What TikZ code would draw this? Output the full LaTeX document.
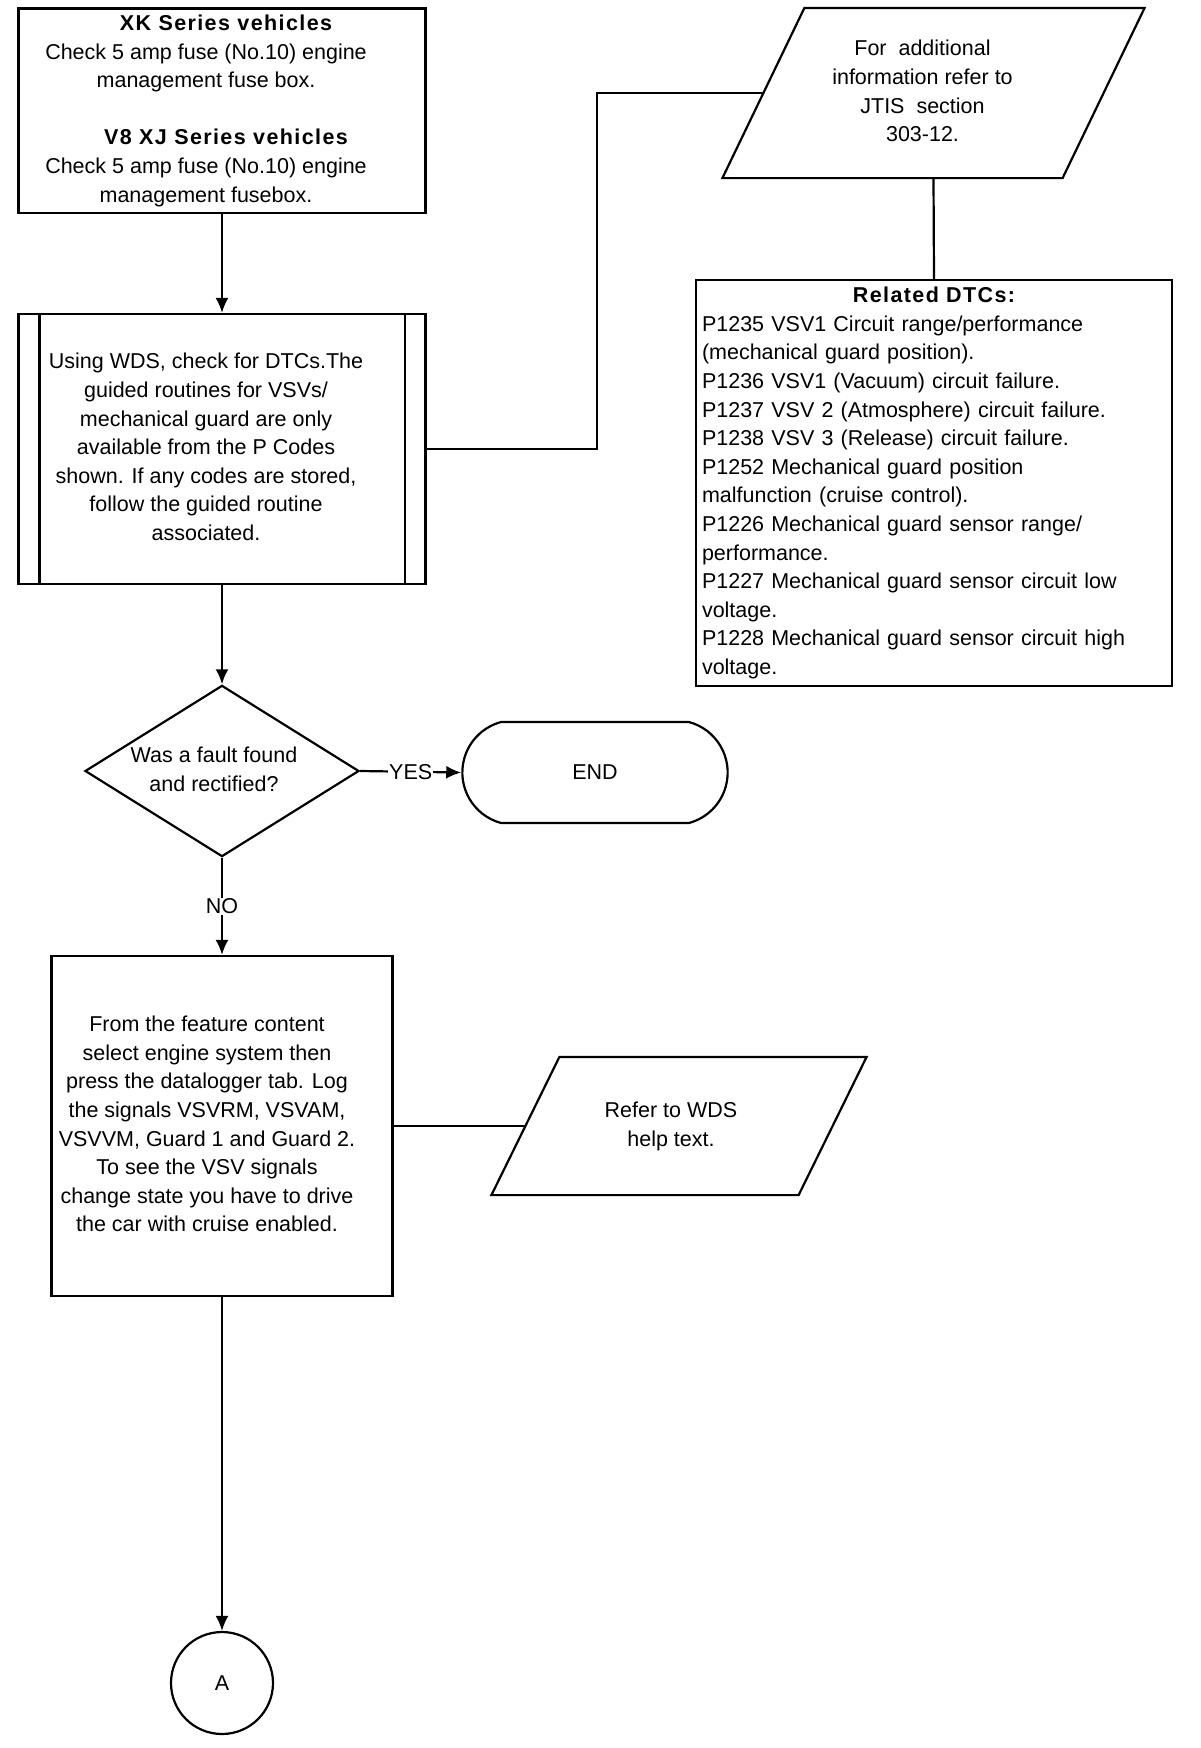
\documentclass[tikz,border=0pt]{standalone}
\usepackage{fontspec}
\setmainfont{Liberation Sans}
\newfontfamily\headfont[LetterSpace=6.5]{Liberation Sans}
\usepackage{tikz}
\usetikzlibrary{calc}
\usetikzlibrary{arrows.meta}
\usetikzlibrary{shapes.geometric}
\usetikzlibrary{shapes.misc}
\newcommand{\padlines}[2]{\begin{tabular}{@{}c@{\hspace{#1pt}}}#2\end{tabular}}
\newcommand{\heading}[1]{{\headfont\bfseries #1}}
\tikzset{
  txt/.style={font=\fontsize{21.5}{28.6}\selectfont},
  stepbox/.style={txt, draw, rectangle, inner sep=2pt},
  decision/.style={txt, draw, diamond, aspect=1.6, inner sep=0pt},
  terminal/.style={txt, draw, rounded rectangle, rounded rectangle arc length=150},
  connector/.style={txt, draw, circle, minimum size=102},
  flow/.style={-{Latex[length=15pt,width=13pt]}},
  lbl/.style={txt, fill=white, inner sep=1pt}
}

\begin{document}
\begin{tikzpicture}[x=1pt, y=-1pt, line width=2.2pt]
			\useasboundingbox (0,0) rectangle (1200,1748);
			% main column
			\node[stepbox, minimum width=407, minimum height=203] (check) at (222,110.5) {\padlines{32}{\heading{XK Series vehicles}\hspace*{-40pt}\\ Check 5 amp fuse (No.10) engine\\ management fuse box.\\ ~\\ \heading{V8 XJ Series vehicles}\hspace*{-40pt}\\ Check 5 amp fuse (No.10) engine\\ management fusebox.}};
			\node[stepbox, minimum width=407, minimum height=270] (proc) at (222,449) {\padlines{32}{Using WDS, check for DTCs.The\\ guided routines for VSVs/\\ mechanical guard are only\\ available from the P Codes\\ shown. If any codes are stored,\\ follow the guided routine\\ associated.}};
			\draw ([xshift=22]proc.north west) -- ([xshift=22]proc.south west);
			\draw ([xshift=-22]proc.north east) -- ([xshift=-22]proc.south east);
			\node[decision, minimum width=273, minimum height=171] (decide) at (222,771) {\padlines{16}{Was a fault found\\ and rectified?}};
			\node[terminal, minimum width=272, minimum height=101] (end) at (595,772.5) {END};
			\node[stepbox, minimum width=341, minimum height=340] (task) at (222,1126) {\padlines{30}{From the feature content\\ select engine system then\\ press the datalogger tab. Log\\ the signals VSVRM, VSVAM,\\ VSVVM, Guard 1 and Guard 2.\\ To see the VSV signals\\ change state you have to drive\\ the car with cruise enabled.}};
			\node[connector] (conn) at (222,1683) {A};
			% side notes
			\node[txt, minimum width=338, minimum height=168] (info) at (933.5,93) {\padlines{22}{For~ additional\\ information refer to\\ JTIS~ section\\ 303-12.}};
			\draw ([xshift=41]info.north west) -- ([xshift=41]info.north east) -- ([xshift=-41]info.south east) -- ([xshift=-41]info.south west) -- cycle;
			\node[stepbox, align=left, text width=464, minimum height=406, inner xsep=6pt] (dtc) at (934,483) {\makebox[\linewidth]{\heading{Related DTCs:}}\\ P1235 VSV1 Circuit range/performance\\ (mechanical guard position).\\ P1236 VSV1 (Vacuum) circuit failure.\\ P1237 VSV 2 (Atmosphere) circuit failure.\\ P1238 VSV 3 (Release) circuit failure.\\ P1252 Mechanical guard position\\ malfunction (cruise control).\\ P1226 Mechanical guard sensor range/\\ performance.\\ P1227 Mechanical guard sensor circuit low\\ voltage.\\ P1228 Mechanical guard sensor circuit high\\ voltage.};
			\node[txt, minimum width=305, minimum height=136] (help) at (679,1126) {\padlines{16}{Refer to WDS\\ help text.}};
			\draw ([xshift=34]help.north west) -- ([xshift=34]help.north east) -- ([xshift=-34]help.south east) -- ([xshift=-34]help.south west) -- cycle;
			% connectors
			\draw[flow] (check.south) -- (proc.north);
			\draw (proc.east) -- ++(170,0) |- (info.west);
			\draw (info.south) -- (dtc.north);
			\draw[flow] (proc.south) -- (decide.north);
			\draw[flow] (decide.east) -- node[lbl] {YES} (end.west);
			\draw[flow] (decide.south) -- node[lbl] {NO} (task.north);
			\draw (task.east) -- (help.west);
			\draw[flow] (task.south) -- (conn.north);
		\end{tikzpicture}
\end{document}
